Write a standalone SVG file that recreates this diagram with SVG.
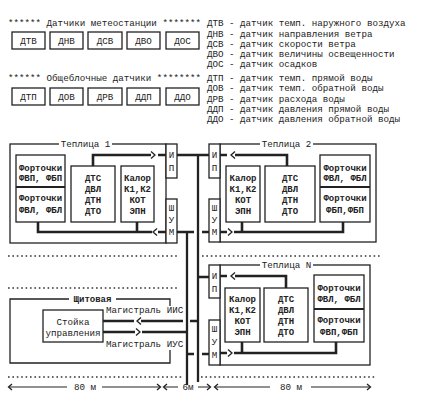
<svg xmlns="http://www.w3.org/2000/svg" width="432" height="405" viewBox="0 0 432 405">
<style>
text{font-family:"Liberation Mono","DejaVu Sans Mono",monospace;fill:#222;font-size:9.2px}
.c{text-anchor:middle}
.b{font-weight:bold;font-size:9px}
.box{fill:#fff;stroke:#222;stroke-width:1.3}
.ln{fill:none;stroke:#222;stroke-width:1.3}
.conn{fill:none;stroke:#222;stroke-width:2.6}
.bus{fill:none;stroke:#222;stroke-width:2.3}
.thin{fill:none;stroke:#222;stroke-width:1}
.ch{fill:none;stroke:#222;stroke-width:1.3}
.dots{fill:none;stroke:#333;stroke-width:1.6;stroke-dasharray:1.6 2.8}
.gap{fill:#fff;stroke:none}
</style>
<rect width="432" height="405" fill="#fff"/>

<!-- Header groups -->
<g id="meteo">
<text x="8" y="26.3">****** Датчики метеостанции *******</text>
<g id="s-dtv"><rect class="box" x="12" y="32" width="33" height="17"/><text class="c" x="28.5" y="43.8">ДТВ</text></g>
<g id="s-dnv"><rect class="box" x="50" y="32" width="33" height="17"/><text class="c" x="66.5" y="43.8">ДНВ</text></g>
<g id="s-dsv"><rect class="box" x="88" y="32" width="34" height="17"/><text class="c" x="105" y="43.8">ДСВ</text></g>
<g id="s-dvo"><rect class="box" x="127" y="32" width="33" height="17"/><text class="c" x="143.5" y="43.8">ДВО</text></g>
<g id="s-dos"><rect class="box" x="166" y="32" width="33" height="17"/><text class="c" x="182.5" y="43.8">ДОС</text></g>
</g>
<g id="common">
<text x="8" y="81.3">****** Общеблочные датчики ********</text>
<g id="s-dtp"><rect class="box" x="12" y="88" width="33" height="17"/><text class="c" x="28.5" y="99.8">ДТП</text></g>
<g id="s-dov"><rect class="box" x="50" y="88" width="33" height="17"/><text class="c" x="66.5" y="99.8">ДОВ</text></g>
<g id="s-drv"><rect class="box" x="88" y="88" width="34" height="17"/><text class="c" x="105" y="99.8">ДРВ</text></g>
<g id="s-ddp"><rect class="box" x="127" y="88" width="33" height="17"/><text class="c" x="143.5" y="99.8">ДДП</text></g>
<g id="s-ddo"><rect class="box" x="166" y="88" width="33" height="17"/><text class="c" x="182.5" y="99.8">ДДО</text></g>
</g>
<g id="legend">
<text x="207" y="26.3">ДТВ - датчик темп. наружного воздуха</text>
<text x="207" y="36.6">ДНВ - датчик направления ветра</text>
<text x="207" y="46.8">ДСВ - датчик скорости ветра</text>
<text x="207" y="57">ДВО - датчик величины освещенности</text>
<text x="207" y="67.3">ДОС - датчик осадков</text>
<text x="207" y="81.3">ДТП - датчик темп. прямой воды</text>
<text x="207" y="91.3">ДОВ - датчик темп. обратной воды</text>
<text x="207" y="101.6">ДРВ - датчик расхода воды</text>
<text x="207" y="111.8">ДДП - датчик давления прямой воды</text>
<text x="207" y="122">ДДО - датчик давления обратной воды</text>
</g>

<!-- dotted separators -->
<g id="separators">
<path class="dots" d="M8,256H177M202,256H382M8,288H177M8,377H183M201,377H377"/>
</g>

<!-- Teplitsa 1 -->
<g id="teplitsa1">
<rect class="ln" x="10" y="144" width="156" height="99"/>
<rect class="gap" x="59" y="140" width="53" height="8"/>
<text class="c" x="85.5" y="147.3">Теплица 1</text>
</g>
<g id="t1-fort"><rect class="box" x="16" y="155" width="49" height="67"/>
<line x1="16" y1="187" x2="65" y2="187" stroke="#222" stroke-width="2.2"/>
<text class="c b" x="40.5" y="170.5">Форточки</text><text class="c b" x="40.5" y="181">ФВП, ФБП</text>
<text class="c b" x="40.5" y="201">Форточки</text><text class="c b" x="40.5" y="212.5">ФВЛ, ФБЛ</text></g>
<g id="t1-dts"><rect class="box" x="71" y="166" width="44" height="56"/>
<text class="c b" x="93" y="181">ДТС</text><text class="c b" x="93" y="192">ДВЛ</text><text class="c b" x="93" y="203">ДТН</text><text class="c b" x="93" y="214">ДТО</text></g>
<g id="t1-kalor"><rect class="box" x="121" y="166" width="33" height="56"/>
<text class="c b" x="137.5" y="181">Калор</text><text class="c b" x="137.5" y="192">К1,К2</text><text class="c b" x="137.5" y="203">КОТ</text><text class="c b" x="137.5" y="214">ЭПН</text></g>
<g id="t1-ip"><rect class="box" x="166" y="144" width="11" height="34"/>
<text class="c" x="171.5" y="157.5">И</text><text class="c" x="171.5" y="171">П</text></g>
<g id="t1-shum"><rect class="box" x="166" y="199" width="11" height="44"/>
<text class="c" x="171.5" y="210.5">Ш</text><text class="c" x="171.5" y="223">У</text><text class="c" x="171.5" y="235">М</text></g>

<!-- Teplitsa 2 -->
<g id="teplitsa2">
<rect class="ln" x="220" y="144" width="156" height="98"/>
<rect class="gap" x="260" y="140" width="53" height="8"/>
<text class="c" x="286.5" y="147.3">Теплица 2</text>
</g>
<g id="t2-ip"><rect class="box" x="209" y="144" width="11" height="34"/>
<text class="c" x="214.5" y="157.5">И</text><text class="c" x="214.5" y="171">П</text></g>
<g id="t2-shum"><rect class="box" x="209" y="199" width="11" height="43"/>
<text class="c" x="214.5" y="210.5">Ш</text><text class="c" x="214.5" y="223">У</text><text class="c" x="214.5" y="235">М</text></g>
<g id="t2-kalor"><rect class="box" x="226" y="166" width="34" height="56"/>
<text class="c b" x="243" y="181">Калор</text><text class="c b" x="243" y="192">К1,К2</text><text class="c b" x="243" y="203">КОТ</text><text class="c b" x="243" y="214">ЭПН</text></g>
<g id="t2-dts"><rect class="box" x="265" y="166" width="50" height="56"/>
<text class="c b" x="290" y="181">ДТС</text><text class="c b" x="290" y="192">ДВЛ</text><text class="c b" x="290" y="203">ДТН</text><text class="c b" x="290" y="214">ДТО</text></g>
<g id="t2-fort"><rect class="box" x="320" y="155" width="50" height="67"/>
<line x1="320" y1="187" x2="370" y2="187" stroke="#222" stroke-width="2.2"/>
<text class="c b" x="345" y="170.5">Форточки</text><text class="c b" x="345" y="181">ФВЛ, ФБЛ</text>
<text class="c b" x="345" y="201">Форточки</text><text class="c b" x="345" y="212.5">ФБП,ФБП</text></g>

<!-- Teplitsa N -->
<g id="teplitsaN">
<rect class="ln" x="220" y="265" width="150" height="100"/>
<rect class="gap" x="260" y="261" width="53" height="8"/>
<text class="c" x="286.5" y="268.3">Теплица N</text>
</g>
<g id="tN-ip"><rect class="box" x="209" y="265" width="11" height="33"/>
<text class="c" x="214.5" y="278.5">И</text><text class="c" x="214.5" y="292">П</text></g>
<g id="tN-shum"><rect class="box" x="209" y="320" width="11" height="45"/>
<text class="c" x="214.5" y="332">Ш</text><text class="c" x="214.5" y="345">У</text><text class="c" x="214.5" y="358">М</text></g>
<g id="tN-kalor"><rect class="box" x="225" y="288" width="35" height="54"/>
<text class="c b" x="242.5" y="302">Калор</text><text class="c b" x="242.5" y="313">К1,К2</text><text class="c b" x="242.5" y="324">КОТ</text><text class="c b" x="242.5" y="335">ЭПН</text></g>
<g id="tN-dts"><rect class="box" x="264" y="288" width="44" height="54"/>
<text class="c b" x="286" y="302">ДТС</text><text class="c b" x="286" y="313">ДВЛ</text><text class="c b" x="286" y="324">ДТН</text><text class="c b" x="286" y="335">ДТО</text></g>
<g id="tN-fort"><rect class="box" x="314" y="275" width="50" height="67"/>
<line x1="314" y1="309" x2="364" y2="309" stroke="#222" stroke-width="2.2"/>
<text class="c b" x="339" y="290.5">Форточки</text><text class="c b" x="339" y="301.5">ФВЛ, ФБЛ</text>
<text class="c b" x="339" y="323">Форточки</text><text class="c b" x="339" y="334.5">ФВП,ФБП</text></g>

<!-- Shitovaya -->
<g id="shitovaya">
<path class="ln" d="M170,306V299H10V363H170V350"/>
<rect class="gap" x="69" y="295" width="47" height="8"/>
<text class="c b" x="92.5" y="302.3">Щитовая</text>
<text x="106" y="313.3">Магистраль ИИС</text>
<text x="106" y="346.5">Магистраль ИУС</text>
</g>
<g id="stoika"><rect class="box" x="43" y="310" width="60" height="32"/>
<text class="c" x="73" y="325">Стойка</text><text class="c" x="73" y="336">управления</text></g>

<!-- connectors -->
<g id="connectors">
<path class="conn" d="M93,166V155H151M158,155H166"/>
<path class="ch" d="M151,151.5L155,155L151,158.5"/>
<path class="conn" d="M38,222V232H152M137,222V232M158,232H166"/>
<path class="ch" d="M157,228.5L153,232L157,235.5"/>
<path class="conn" d="M220,155H227M235,155H287V166"/>
<path class="ch" d="M235,151.5L231,155L235,158.5"/>
<path class="conn" d="M220,232H227M234,232H343V222M242,222V232"/>
<path class="ch" d="M228,228.5L232,232L228,235.5"/>
<path class="conn" d="M220,276H227M235,276H286V288"/>
<path class="ch" d="M235,272.5L231,276L235,279.5"/>
<path class="conn" d="M220,353H227M234,353H336V342M242,342V353"/>
<path class="ch" d="M228,349.5L232,353L228,356.5"/>
<path class="conn" d="M103,321H134M141,321H183M190,321H198"/>
<path class="ch" d="M141,317.5L137,321L141,324.5"/>
<path class="conn" d="M103,332H135M142,332H187"/>
<path class="ch" d="M136,328.5L140,332L136,335.5"/>
<path class="bus" d="M187,232V385M198,155V382"/>
<path class="conn" d="M177,155H209M177,232H194M202,232H209M198,277H209M187,354H194M202,354H209"/>
</g>

<!-- dimensions -->
<g id="dimensions">
<path class="thin" d="M9,387H67M102,387H160M164,387H178M198,387H210M215,387H270M311,387H370"/>
<path class="ch" d="M12,384L8.5,387L12,390M157,384L160.5,387L157,390M167,384L163.5,387L167,390M207,384L210.5,387L207,390M218,384L214.5,387L218,390M367,384L370.5,387L367,390"/>
<text class="c" x="85" y="390.3">80 м</text>
<text class="c" x="188" y="390.3">6м</text>
<text class="c" x="291" y="390.3">80 м</text>
</g>
</svg>
